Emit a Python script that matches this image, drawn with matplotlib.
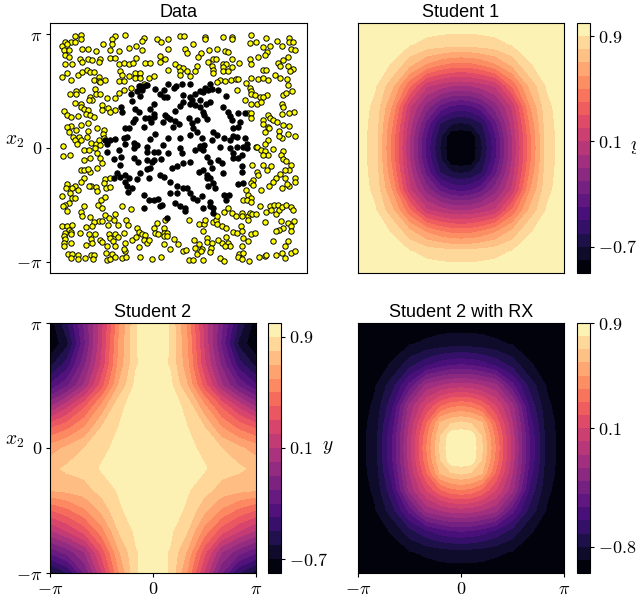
import numpy as np
import matplotlib
matplotlib.use("Agg")
import matplotlib.pyplot as plt

plt.rcParams['font.family'] = ['Liberation Sans', 'DejaVu Sans']
plt.rcParams['mathtext.fontset'] = 'cm'
plt.rcParams['xtick.major.size'] = 3
plt.rcParams['ytick.major.size'] = 3
plt.rcParams['xtick.major.pad'] = 2.5
plt.rcParams['ytick.major.pad'] = 2.5

yellow_points = [
    (-2.79,3.11),(-2.63,3.13),(-1.71,3.11),(-1.43,3.12),(0.04,3.11),(0.16,3.09),(0.71,3.08),(1.21,3.08),(1.43,3.08),(1.96,3.13),(2.97,3.05),(2.35,3.04),
    (-3.06,2.94),(-2.88,2.93),(-2.77,2.93),(-2.63,3.0),(-1.79,3.02),(-0.92,3.04),(-0.98,2.95),(-0.58,3.02),(-0.27,3.0),(-0.46,2.92),(0.71,3.02),(1.43,3.0),(1.92,2.9),(2.08,2.92),(2.65,2.95),(2.97,2.92),(3.08,2.92),(0.38,2.87),
    (-3.12,2.83),(-2.99,2.88),(-3.08,2.7),(-2.95,2.7),(-2.59,2.74),(-2.44,2.74),(-2.23,2.67),(-2.04,2.88),(-1.85,2.7),(-1.61,2.67),(-1.79,2.88),(-1.34,2.76),(-1.13,2.82),(-0.98,2.7),(-0.27,2.74),(0.18,2.74),(0.22,2.63),(0.61,2.63),(0.83,2.7),(1.03,2.74),(1.25,2.67),(1.32,2.65),(2.28,2.79),(2.46,2.83),(2.77,2.83),(3.03,2.74),(3.12,2.7),(2.37,2.65),(2.32,2.58),
    (-3.04,2.56),(-2.95,2.51),(-3.04,2.33),(-2.86,2.33),(-2.64,2.47),(-2.59,2.38),(-2.44,2.47),(-2.32,2.42),(-2.1,2.47),(-2.14,2.38),(-1.83,2.49),(-1.7,2.49),(-1.59,2.33),(-1.47,2.36),(-1.34,2.33),(-1.23,2.36),(-1.13,2.49),(-0.89,2.36),(-0.76,2.36),(-0.51,2.53),(-0.36,2.47),(-0.51,2.39),(-0.09,2.33),(0.52,2.51),(0.49,2.28),(0.8,2.38),(0.94,2.47),(1.01,2.47),(0.89,2.28),(1.19,2.33),(1.29,2.33),(1.43,2.47),(1.63,2.36),(1.92,2.47),(2.14,2.51),(1.96,2.33),(2.68,2.36),(2.81,2.44),(2.95,2.51),(2.72,2.28),(2.95,2.28),
    (-3.12,1.96),(-2.99,2.08),(-2.9,1.87),(-2.71,2.01),(-2.59,2.1),(-2.46,2.17),(-2.37,2.1),(-2.28,2.1),(-2.14,1.96),(-2.28,1.87),(-2.14,1.84),(-1.99,1.89),(-2.1,1.83),(-1.56,2.13),(-1.52,2.01),(-1.61,1.84),(-1.46,1.84),(-1.34,1.98),(-1.16,2.07),(-1.03,2.07),(-1.16,1.94),(-1.03,1.94),(-0.8,1.94),(-0.67,1.98),(-0.29,2.17),(0.0,2.24),(0.13,2.21),(0.03,2.13),(0.04,2.01),(0.22,2.13),(0.45,2.13),(0.31,1.98),(0.94,2.17),(0.94,2.06),(1.21,2.24),(1.21,2.12),(1.32,2.12),(1.43,2.24),(1.12,1.89),(1.26,1.85),(1.4,1.89),(1.54,1.91),(1.6,1.92),(1.94,1.94),(2.14,1.91),(2.28,2.17),(2.35,2.15),(2.28,1.94),(2.41,1.87),(2.59,2.01),(2.72,1.94),(2.92,1.92),(3.08,2.19),(2.99,2.13),(1.81,1.81),(1.03,1.83),
    (-2.93,1.48),(-2.75,1.58),(-2.59,1.6),(-2.75,1.49),(-2.25,1.64),(-2.23,1.48),(-2.12,1.49),(-2.37,1.41),(-2.32,1.34),(-2.41,1.32),(-1.92,1.39),(-1.7,1.39),(-1.61,1.53),(-1.46,1.61),(-1.29,1.67),(-1.04,1.71),(-0.92,1.78),(1.58,1.6),(1.92,1.66),(1.96,1.58),(1.94,1.5),(2.05,1.46),(2.19,1.41),(2.37,1.46),(2.28,1.41),(1.79,1.32),(1.94,1.23),(2.1,1.23),(2.23,1.28),(2.81,1.46),(2.88,1.52),(3.06,1.58),(2.94,1.73),
    (-3.08,1.03),(-3.01,0.91),(-2.88,0.86),(-2.71,0.88),(-2.77,1.25),(-2.63,1.23),(-2.63,1.12),(-2.54,1.09),(-2.44,1.06),(-2.48,0.95),(-2.39,0.91),(-2.28,0.86),(-2.05,1.2),(-2.07,1.06),(-1.9,1.11),(-1.72,1.06),(-1.83,1.0),(2.77,1.21),(2.81,1.14),(3.1,1.0),(2.97,0.97),(2.77,0.94),(2.41,0.91),(1.88,0.97),(1.96,0.97),(1.94,0.84),
    (-2.9,0.61),(-2.99,0.57),(-2.95,0.43),(-2.75,0.5),(-2.62,0.63),(-2.43,0.7),(-2.43,0.47),(-2.19,0.54),(-2.01,0.51),(-2.03,0.4),(2.28,0.77),(2.46,0.82),(2.55,0.77),(2.65,0.72),(2.28,0.66),(2.41,0.59),(2.32,0.45),(2.43,0.54),(2.81,0.63),(2.97,0.61),(2.7,0.48),(2.94,0.4),(2.79,0.29),(3.12,0.33),(2.7,0.33),(2.41,0.22),(2.32,0.11),(2.08,0.04),
    (-2.83,0.31),(-2.68,0.31),(-2.79,0.22),(-2.63,0.22),(-2.72,0.11),(-2.46,0.31),(-2.35,0.13),(-2.23,0.11),(-3.1,0.06),(-2.14,0.22),(-2.01,0.27),(-2.1,0.08),
    (-3.1,-0.21),(-2.92,-0.19),(-2.55,-0.06),(-2.41,-0.06),(-2.25,-0.01),(-2.19,-0.15),(-2.11,-0.27),(-2.55,-0.33),(-2.39,-0.27),(-2.07,-0.42),(-2.2,-0.54),(-2.63,-0.61),(-2.54,-0.61),(-2.38,-0.65),(-2.43,-0.58),(-2.55,-0.83),(-2.63,-0.93),(-1.98,-0.85),(-1.83,-0.83),(-2.01,-0.97),(-1.94,-1.11),(-1.83,-1.09),(-2.36,-1.04),(-2.42,-1.04),(-2.21,-1.09),(-2.19,-1.2),(-2.77,-1.04),(-2.99,-1.0),(-3.02,-1.11),(-2.86,-1.11),(-2.71,-1.17),(-2.93,-1.25),(-3.12,-1.34),(-2.86,-1.39),(-2.77,-1.39),(-2.95,-1.52),(-3.04,-1.57),(-3.11,-1.61),(-2.99,-1.75),(-2.54,-1.61),(-2.63,-1.78),(-2.59,-1.89),(-2.38,-1.91),(-2.17,-1.57),(-2.08,-1.43),(-1.98,-1.36),(-2.07,-1.66),(-1.98,-1.84),(-1.7,-1.82),(-1.52,-1.6),(-1.29,-1.69),(-1.87,-1.94),(-1.74,-1.98),(-2.14,-2.03),(-2.28,-2.05),(-2.05,-2.01),(-1.9,-2.12),(-1.63,-2.12),(-1.4,-1.98),(-1.37,-2.12),(-0.58,-2.06),(-0.36,-1.98),
    (-3.13,-2.15),(-2.99,-2.17),(-2.87,-2.12),(-2.95,-2.26),(-3.04,-2.35),(-2.89,-2.32),(-3.08,-2.42),(-3.04,-2.51),(-2.89,-2.39),(-2.66,-2.35),(-3.08,-2.62),(-2.89,-2.64),(-3.08,-2.72),(-2.5,-2.19),(-2.32,-2.17),(-2.41,-2.38),(-2.25,-2.39),(-2.34,-2.51),(-2.1,-2.53),(-2.05,-2.61),(-2.48,-2.67),(-2.33,-2.64),(-1.87,-2.38),(-1.7,-2.39),(-1.83,-2.49),(-1.63,-2.47),(-1.92,-2.72),(-1.76,-2.58),(-1.7,-2.7),(-1.47,-2.35),(-1.43,-2.64),(-1.25,-2.53),(-1.13,-2.47),(-1.12,-2.21),(-1.07,-2.32),(-0.98,-2.39),(-0.89,-2.41),(-0.94,-2.53),(-0.85,-2.62),(-0.78,-2.55),(-0.65,-2.21),(-0.63,-2.35),(-0.54,-2.39),(-0.4,-2.21),(-0.4,-2.35),(-0.31,-2.35),(-0.4,-2.44),(-0.31,-2.44),(-0.13,-2.51),(-0.4,-2.65),(-0.02,-2.65),(-0.22,-2.78),
    (0.29,-2.0),(0.54,-2.1),(0.69,-2.1),(0.71,-1.98),(0.67,-2.3),(0.92,-2.05),(1.02,-2.0),(1.03,-2.1),(1.16,-2.17),(1.29,-2.21),(1.04,-1.87),(1.22,-1.78),(1.32,-1.66),(1.45,-1.8),(1.54,-1.87),(1.7,-1.8),(1.7,-1.89),(1.88,-1.87),(1.92,-1.8),(1.98,-1.82),(2.09,-1.82),(1.88,-2.0),(1.67,-2.15),(2.32,-2.05),(2.34,-1.77),(2.2,-1.6),(2.47,-1.6),(2.56,-1.57),(2.68,-1.57),(2.5,-1.71),(2.61,-1.82),(2.71,-1.72),(2.79,-1.64),(2.9,-1.57),(3.03,-1.63),(3.08,-1.71),(3.1,-2.03),(2.95,-2.06),(2.75,-2.03),(2.81,-2.21),(2.71,-2.28),(2.62,-2.3),(3.03,-2.17),(3.03,-2.3),(2.55,-2.58),(2.95,-2.58),(2.86,-2.72),
    (1.47,-2.33),(1.58,-2.35),(1.7,-2.3),(1.96,-2.39),(2.05,-2.35),(1.74,-2.49),(1.86,-2.58),(1.7,-2.7),(1.32,-2.64),(1.38,-2.7),(1.16,-2.62),(1.07,-2.55),(1.25,-2.72),(1.29,-2.47),(0.76,-2.49),(0.76,-2.6),(0.89,-2.62),(0.87,-2.76),(0.85,-2.87),(0.63,-2.79),(0.54,-2.65),(0.43,-2.53),(0.45,-2.76),(0.49,-2.93),(0.6,-2.84),(0.12,-2.85),(0.21,-2.83),(0.29,-3.11),(0.38,-3.11),(0.67,-3.1),(1.12,-3.04),(1.22,-3.13),(1.63,-2.93),(1.74,-2.9),(1.61,-3.02),(1.7,-3.08),(1.9,-3.13),(2.17,-3.02),(2.32,-2.99),(2.34,-2.95),(2.62,-2.95),(2.79,-2.9),(2.86,-3.04),(3.03,-2.9),(3.13,-2.85),
    (-2.97,-2.92),(-2.86,-2.92),(-2.88,-3.04),(-2.71,-2.96),(-2.71,-3.08),(-2.52,-3.04),(-2.35,-2.95),(-2.28,-2.96),(-2.3,-3.06),(-1.94,-2.9),(-1.79,-2.93),(-1.92,-3.11),(-1.83,-3.08),(-1.7,-3.01),(-1.52,-3.04),(-1.4,-3.01),(-1.43,-2.85),(-1.47,-2.78),(-1.07,-2.74),(-1.04,-3.0),(-0.7,-3.08),(-0.47,-3.02),
    (2.1,0.04),(2.23,-0.06),(2.32,-0.07),(2.41,-0.18),(2.28,-0.18),(2.53,-0.03),(2.81,-0.08),(2.75,-0.19),(2.81,-0.3),(2.9,-0.36),(3.02,-0.47),(2.97,-0.61),(2.86,-0.61),(2.72,-0.73),(2.86,-0.83),(3.13,-0.83),(3.13,-0.95),(2.98,-1.04),(2.77,-1.11),(2.92,-1.0),(2.61,-0.83),(2.54,-0.95),(2.44,-1.04),(2.21,-1.16),(1.99,-0.47),(2.1,-0.67),(2.14,-0.76),(2.26,-0.47),(2.37,-0.61),(2.5,-0.51),(2.0,-0.88),(1.96,-0.97),(2.0,-1.02),(1.81,-1.17),(1.88,-1.29),(1.96,-1.37),(1.74,-1.43),(1.85,-1.45),(1.94,-1.5),
]
black_points = [
    (-0.27,1.78),(-0.07,1.71),(0.09,1.78),(0.31,1.78),(0.85,1.78),(-1.07,1.71),(-0.92,1.71),(-1.12,1.58),(-0.98,1.6),(-0.85,1.73),(-1.29,1.5),(-1.04,1.43),(-0.63,1.64),(-0.49,1.5),(-0.4,1.41),(-0.31,1.41),(-0.4,1.6),(-0.13,1.67),(0.13,1.46),(0.31,1.41),(0.45,1.5),(0.58,1.58),(0.71,1.67),(0.89,1.64),(1.07,1.61),(0.67,1.55),(0.8,1.6),(0.58,1.32),(0.36,1.32),(0.31,1.21),(0.45,1.18),(0.85,1.28),(0.74,1.23),(1.29,1.43),(1.21,1.12),(0.13,1.28),(0.04,1.16),(-0.09,1.02),(-0.67,1.21),(-0.76,1.09),(-1.54,1.12),(-1.52,1.0),(-1.25,1.3),(-1.16,1.09),(-1.07,1.0),
    (0.58,1.14),(0.67,1.0),(0.69,0.91),(0.76,0.79),(1.34,1.0),(1.61,0.97),(1.79,0.97),(1.38,0.88),(1.43,0.77),(1.65,0.72),(0.27,0.82),(-0.36,0.91),(-0.67,0.95),(-0.8,0.82),(-0.67,0.86),(-0.9,0.82),(-1.16,0.79),(-1.23,0.72),(-0.94,0.57),(-0.73,0.71),(-0.31,0.86),(-0.23,0.8),(-0.09,0.75),(0.0,0.66),(-0.14,0.59),(-0.41,0.71),(0.49,0.77),(0.36,0.68),(0.38,0.54),(0.49,0.45),(0.63,0.27),(0.94,0.45),(1.03,0.36),(0.89,0.22),(0.69,0.08),(0.58,0.06),(1.22,0.29),(1.47,0.54),(1.61,0.57),(1.47,0.33),(1.38,0.22),(1.56,0.31),(-1.43,0.54),(-1.34,0.54),(-1.38,0.31),(-1.46,0.27),(-1.7,0.24),(-1.83,0.22),(-1.97,0.22),(-1.92,0.11),(-1.43,0.11),(-1.21,0.13),(-1.12,0.08),(-0.63,0.38),(-0.76,0.24),(-0.27,0.27),(0.04,0.29),(0.31,0.36),(-0.41,0.08),(-0.85,0.04),(1.79,0.27),(1.83,0.11),(1.56,0.04),(1.74,0.04),(1.12,0.04),
    (-1.74,-0.31),(-1.54,-0.24),(-1.56,-0.47),(-1.2,-0.28),(-1.09,-0.39),(-1.65,-0.7),(-1.74,-0.83),(-1.56,-0.79),(-1.43,-0.76),(-1.34,-0.83),(-1.43,-0.93),(-1.38,-1.06),(-1.25,-1.11),(-1.36,-1.22),(-1.04,-0.7),(-1.12,-0.85),(-0.8,-0.83),(-0.85,-0.58),(-0.76,-0.56),(-0.71,-0.38),(-0.65,-0.33),(-0.47,-0.3),(-0.85,-0.12),(-0.67,-0.12),(-0.54,-0.12),(-0.27,-0.15),(0.04,-0.01),(0.09,-0.15),(0.13,-0.42),(0.31,-0.39),(-0.04,-0.51),(-0.18,-0.56),(-0.49,-0.74),(-0.4,-0.79),(-0.22,-0.93),(-0.04,-1.06),(0.13,-1.11),(0.22,-1.11),(-0.22,-1.25),(-0.04,-1.25),(0.31,-1.25),(0.4,-1.39),(0.63,-1.32),(0.49,-1.43),(-0.92,-1.29),(-0.92,-1.66),(-0.8,-1.43),(-0.67,-1.43),(-0.54,-1.4),(-0.45,-1.57),(-0.51,-1.61),(-0.31,-1.94),(-0.09,-1.52),(0.04,-1.61),(0.18,-1.66),(0.18,-1.75),(0.67,-1.66),(0.85,-1.48),(0.85,-1.61),(0.94,-1.66),(0.94,-1.8),(1.23,-1.29),(1.37,-1.29),(1.29,-1.43),(0.98,-1.11),(0.8,-1.06),(0.76,-0.83),(0.76,-0.74),(0.94,-0.97),(0.54,-0.65),(0.67,-0.61),(0.89,-0.56),(1.07,-0.33),(1.16,-0.42),(1.21,-0.7),(0.76,-0.24),(0.85,-0.38),(1.47,-0.28),(1.61,-0.28),(1.7,-0.19),(1.7,-0.51),(1.7,-0.65),(1.38,-0.01),(1.47,-0.15),(1.83,-0.01),(0.58,-0.01),(0.45,-0.06),(0.67,-0.06),(0.63,0.04),(1.74,-0.97),(1.6,-1.0),(-1.2,-0.01),(-1.61,-0.06),(-1.93,-0.1),(0.85,-0.84),(-0.85,-0.33),
]

# positions the outputs are read at, finer around the centre of the two round panels
round_grid = [-3.14159, -2.62, -2.09, -1.57, -1.05, -0.63, -0.31, 0.0, 0.31, 0.63, 1.05, 1.57, 2.09, 2.62, 3.14159]
wide_grid = [-3.14159, -2.62, -2.09, -1.57, -1.05, -0.52, 0.0, 0.52, 1.05, 1.57, 2.09, 2.62, 3.14159]

student1_levels = [-0.9, -0.8, -0.7, -0.6, -0.5, -0.4, -0.3, -0.2, -0.1, 0.0, 0.1, 0.2, 0.3, 0.4, 0.5, 0.6, 0.7, 0.8, 0.9, 1.0]
student1_output = [
    [.99, .99, .98, .97, .96, .95, .95, .95, .95, .95, .96, .97, .98, .99, .99],
    [.99, .97, .94, .91, .87, .86, .85, .85, .85, .86, .87, .91, .94, .97, .99],
    [.98, .94, .89, .72, .58, .50, .46, .45, .46, .50, .58, .72, .89, .94, .98],
    [.97, .91, .72, .42, .12, .05, .01, .00, .01, .05, .12, .42, .72, .91, .97],
    [.96, .87, .58, .12, -.15, -.33, -.41, -.44, -.41, -.33, -.15, .12, .58, .87, .96],
    [.95, .86, .50, .05, -.33, -.60, -.68, -.71, -.68, -.60, -.33, .05, .50, .86, .95],
    [.95, .85, .46, .01, -.41, -.68, -.87, -.88, -.87, -.68, -.41, .01, .46, .85, .95],
    [.95, .85, .45, .00, -.44, -.71, -.88, -.89, -.88, -.71, -.44, .00, .45, .85, .95],
    [.95, .85, .46, .01, -.41, -.68, -.87, -.88, -.87, -.68, -.41, .01, .46, .85, .95],
    [.95, .86, .50, .05, -.33, -.60, -.68, -.71, -.68, -.60, -.33, .05, .50, .86, .95],
    [.96, .87, .58, .12, -.15, -.33, -.41, -.44, -.41, -.33, -.15, .12, .58, .87, .96],
    [.97, .91, .72, .42, .12, .05, .01, .00, .01, .05, .12, .42, .72, .91, .97],
    [.98, .94, .89, .72, .58, .50, .46, .45, .46, .50, .58, .72, .89, .94, .98],
    [.99, .97, .94, .91, .87, .86, .85, .85, .85, .86, .87, .91, .94, .97, .99],
    [.99, .99, .98, .97, .96, .95, .95, .95, .95, .95, .96, .97, .98, .99, .99],
]

student2_levels = [-0.8, -0.7, -0.6, -0.5, -0.4, -0.3, -0.2, -0.1, 0.0, 0.1, 0.2, 0.3, 0.4, 0.5, 0.6, 0.7, 0.8, 0.9, 1.0]
student2_output = [
    [-.65, -.50, -.20, .18, .58, .89, .96, .89, .58, .18, -.20, -.50, -.65],
    [-.28, -.16, .00, .33, .68, .89, .96, .89, .68, .33, .00, -.16, -.28],
    [.08, .20, .34, .55, .80, .92, .96, .92, .80, .55, .34, .20, .08],
    [.39, .47, .58, .72, .88, .95, .97, .95, .88, .72, .58, .47, .39],
    [.71, .73, .76, .84, .91, .96, .97, .96, .91, .84, .76, .73, .71],
    [.77, .82, .84, .91, .93, .96, .97, .96, .93, .91, .84, .82, .77],
    [.65, .72, .80, .87, .93, .97, .98, .97, .93, .87, .80, .72, .65],
    [.38, .47, .60, .80, .90, .96, .98, .96, .90, .80, .60, .47, .38],
    [-.02, .17, .38, .62, .87, .95, .98, .95, .87, .62, .38, .17, -.02],
    [-.38, -.22, .02, .35, .70, .93, .98, .93, .70, .35, .02, -.22, -.38],
    [-.63, -.45, -.12, .22, .62, .89, .97, .89, .62, .22, -.12, -.45, -.63],
    [-.79, -.63, -.22, .18, .60, .89, .98, .89, .60, .18, -.22, -.63, -.79],
    [-.76, -.52, -.18, .16, .57, .89, .98, .89, .57, .16, -.18, -.52, -.76],
]

student2_rx_levels = [-1.0, -0.9, -0.8, -0.7, -0.6, -0.5, -0.4, -0.3, -0.2, -0.1, 0.0, 0.1, 0.2, 0.3, 0.4, 0.5, 0.6, 0.7, 0.8, 0.9]
student2_rx_output = [
    [-.99, -.99, -.98, -.97, -.96, -.95, -.95, -.95, -.95, -.95, -.96, -.97, -.98, -.99, -.99],
    [-.99, -.97, -.94, -.91, -.88, -.86, -.85, -.85, -.85, -.86, -.88, -.91, -.94, -.97, -.99],
    [-.98, -.94, -.89, -.74, -.62, -.55, -.51, -.50, -.51, -.55, -.62, -.74, -.89, -.94, -.98],
    [-.97, -.91, -.74, -.47, -.17, -.10, -.06, -.05, -.06, -.10, -.17, -.47, -.74, -.91, -.97],
    [-.96, -.88, -.62, -.17, .11, .29, .37, .40, .37, .29, .11, -.17, -.62, -.88, -.96],
    [-.95, -.86, -.55, -.10, .29, .61, .69, .72, .69, .61, .29, -.10, -.55, -.86, -.95],
    [-.95, -.85, -.51, -.06, .37, .69, .86, .87, .86, .69, .37, -.06, -.51, -.85, -.95],
    [-.95, -.85, -.50, -.05, .40, .72, .87, .88, .87, .72, .40, -.05, -.50, -.85, -.95],
    [-.95, -.85, -.51, -.06, .37, .69, .86, .87, .86, .69, .37, -.06, -.51, -.85, -.95],
    [-.95, -.86, -.55, -.10, .29, .61, .69, .72, .69, .61, .29, -.10, -.55, -.86, -.95],
    [-.96, -.88, -.62, -.17, .11, .29, .37, .40, .37, .29, .11, -.17, -.62, -.88, -.96],
    [-.97, -.91, -.74, -.47, -.17, -.10, -.06, -.05, -.06, -.10, -.17, -.47, -.74, -.91, -.97],
    [-.98, -.94, -.89, -.74, -.62, -.55, -.51, -.50, -.51, -.55, -.62, -.74, -.89, -.94, -.98],
    [-.99, -.97, -.94, -.91, -.88, -.86, -.85, -.85, -.85, -.86, -.88, -.91, -.94, -.97, -.99],
    [-.99, -.99, -.98, -.97, -.96, -.95, -.95, -.95, -.95, -.95, -.96, -.97, -.98, -.99, -.99],
]

pi_ticks = [-np.pi, 0, np.pi]
pi_labels = [r'$-\pi$', r'$0$', r'$\pi$']
LABEL_SIZE = 13
TITLE_SIZE = 13

WIDTH, HEIGHT = 636, 598
fig = plt.figure(figsize=(WIDTH / 100, HEIGHT / 100), dpi=100)


# Places an axes from its pixel box in the picture
def axes_at(left, top, right, bottom):
    return fig.add_axes([left / WIDTH, 1 - bottom / HEIGHT, (right - left) / WIDTH, (bottom - top) / HEIGHT])


# Draws one filled contour panel with its colorbar
def contour_panel(box, cbar_box, grid, values, levels, title, cbar_ticks, cbar_labels):
    ax = axes_at(*box)
    filled = ax.contourf(grid, grid, np.array(values), levels=levels, cmap='magma')
    ax.set_title(title, fontsize=TITLE_SIZE, pad=4)
    ax.set_xticks([])
    ax.set_yticks([])
    cax = axes_at(*cbar_box)
    cbar = fig.colorbar(filled, cax=cax)
    cbar.set_ticks(cbar_ticks)
    cbar.set_ticklabels(cbar_labels, fontsize=LABEL_SIZE)
    cbar.ax.minorticks_off()
    return ax, cbar


def side_label(axis, text, x, y):
    axis.set_ylabel(text, fontsize=14, rotation=0, ha='center', va='center')
    axis.yaxis.set_label_coords(x, y)


# Data panel
ax_data = axes_at(50, 23, 307, 273)
yellow = np.array(yellow_points)
black = np.array(black_points)
ax_data.scatter(yellow[:, 0], yellow[:, 1], s=15, c='yellow', edgecolors='black', linewidths=0.7)
ax_data.scatter(black[:, 0], black[:, 1], s=15, c='black', edgecolors='black', linewidths=0.7)
ax_data.set_xlim(-np.pi * 1.1, np.pi * 1.1)
ax_data.set_ylim(-np.pi * 1.1, np.pi * 1.1)
ax_data.set_xticks([])
ax_data.set_yticks(pi_ticks)
ax_data.set_yticklabels(pi_labels, fontsize=LABEL_SIZE)
ax_data.set_title('Data', fontsize=TITLE_SIZE, pad=4)
side_label(ax_data, r'$x_2$', -0.136, 0.524)

# Student 1
ax1, cbar1 = contour_panel((358, 23, 564, 273), (577, 23, 590, 273), round_grid, student1_output, student1_levels,
                           'Student 1', [-0.7, 0.1, 0.9], [r'$-0.7$', r'$0.1$', r'$0.9$'])
side_label(cbar1.ax, r'$y$', 4.5, 0.5)

# Student 2
ax2, cbar2 = contour_panel((50, 323, 256, 573), (268, 323, 281, 573), wide_grid, student2_output, student2_levels,
                           'Student 2', [-0.7, 0.1, 0.9], [r'$-0.7$', r'$0.1$', r'$0.9$'])
ax2.set_xticks(pi_ticks)
ax2.set_xticklabels(pi_labels, fontsize=LABEL_SIZE)
ax2.set_yticks(pi_ticks)
ax2.set_yticklabels(pi_labels, fontsize=LABEL_SIZE)
side_label(ax2, r'$x_2$', -0.17, 0.528)
side_label(cbar2.ax, r'$y$', 4.6, 0.504)

# Student 2 with RX
ax3, cbar3 = contour_panel((358, 323, 564, 573), (577, 323, 590, 573), round_grid, student2_rx_output, student2_rx_levels,
                           'Student 2 with RX', [-0.8, 0.1, 0.9], [r'$-0.8$', r'$0.1$', r'$0.9$'])
ax3.set_xticks(pi_ticks)
ax3.set_xticklabels(pi_labels, fontsize=LABEL_SIZE)

fig.savefig('out.png', dpi=100)
